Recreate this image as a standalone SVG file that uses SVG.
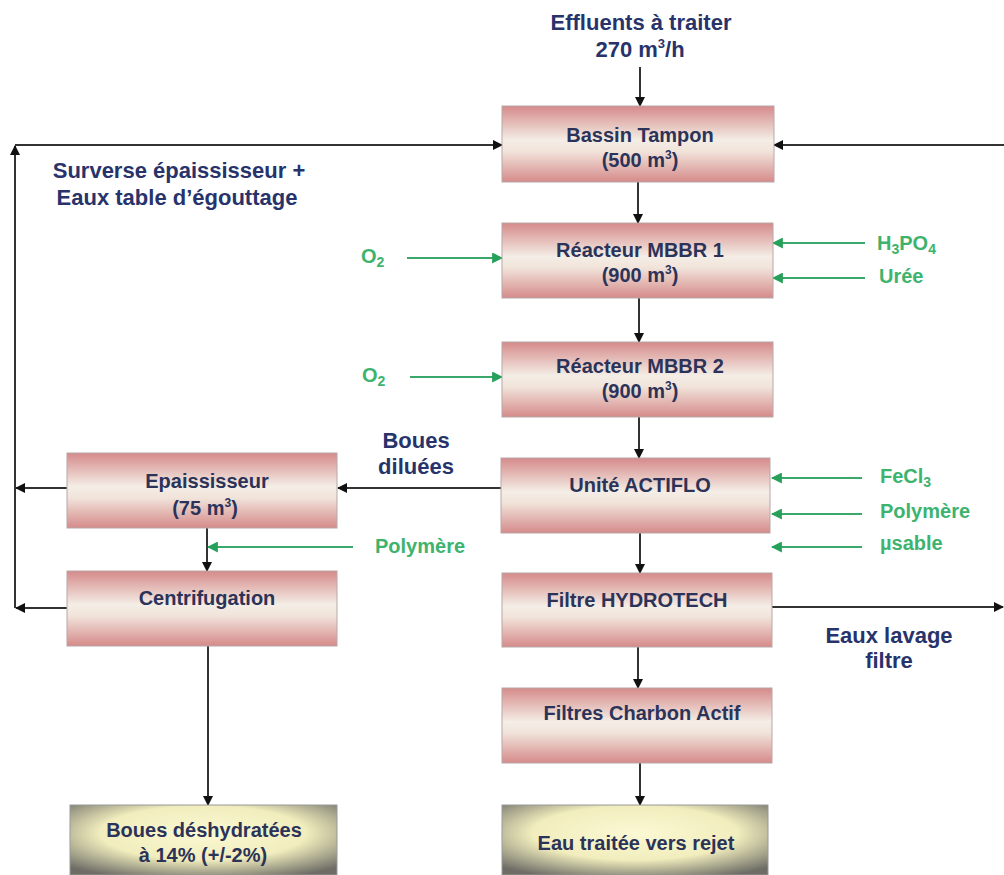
<svg xmlns="http://www.w3.org/2000/svg" width="1004" height="875" viewBox="0 0 1004 875">
<defs>
<linearGradient id="pink" x1="0" y1="0" x2="0" y2="1">
<stop offset="0" stop-color="#d58a8a"/>
<stop offset="0.45" stop-color="#f4eee6"/>
<stop offset="0.6" stop-color="#f1e3da"/>
<stop offset="1" stop-color="#d58a8a"/>
</linearGradient>
<radialGradient id="yel" cx="0.5" cy="0.4" r="0.7">
<stop offset="0" stop-color="#fbf9d4"/>
<stop offset="0.55" stop-color="#f1edbd"/>
<stop offset="1" stop-color="#6d6d66"/>
</radialGradient>
<marker id="ab" viewBox="0 0 10 10" refX="9" refY="5" markerWidth="10" markerHeight="10" markerUnits="userSpaceOnUse" orient="auto">
<path d="M0,0 L10,5 L0,10 z" fill="#111"/>
</marker>
<marker id="ag" viewBox="0 0 10 10" refX="9" refY="5" markerWidth="11" markerHeight="11" markerUnits="userSpaceOnUse" orient="auto">
<path d="M0,0 L10,5 L0,10 z" fill="#27a05a"/>
</marker>
</defs>
<style>
.box{fill:url(#pink);stroke:#b8a8a8;stroke-width:1}
.ybox{fill:url(#yel);stroke:#999;stroke-width:1}
.bt{font-family:"Liberation Sans",Arial,sans-serif;font-weight:bold;font-size:20px;fill:#2c3358;text-anchor:middle}
.lbl{font-family:"Liberation Sans",Arial,sans-serif;font-weight:bold;font-size:22px;fill:#27336a;text-anchor:middle}
.gl{font-family:"Liberation Sans",Arial,sans-serif;font-weight:bold;font-size:20px;fill:#3db36e}
.bl{stroke:#333;stroke-width:2;fill:none}
.gr{stroke:#3aa86a;stroke-width:2;fill:none}
</style>
<rect width="1004" height="875" fill="#fff"/>

<g id="connectors">
<line class="bl" x1="640" y1="67" x2="640" y2="106" marker-end="url(#ab)"/>
<line class="bl" x1="638" y1="182" x2="638" y2="223" marker-end="url(#ab)"/>
<line class="bl" x1="639" y1="298" x2="639" y2="342" marker-end="url(#ab)"/>
<line class="bl" x1="639" y1="417" x2="639" y2="458" marker-end="url(#ab)"/>
<line class="bl" x1="640" y1="533" x2="640" y2="573" marker-end="url(#ab)"/>
<line class="bl" x1="638" y1="647" x2="638" y2="688" marker-end="url(#ab)"/>
<line class="bl" x1="640" y1="763" x2="640" y2="805" marker-end="url(#ab)"/>
<line class="bl" x1="502" y1="488" x2="338" y2="488" marker-end="url(#ab)"/>
<line class="bl" x1="207" y1="528" x2="207" y2="571" marker-end="url(#ab)"/>
<line class="bl" x1="208" y1="646" x2="208" y2="805" marker-end="url(#ab)"/>
<line class="bl" x1="67" y1="488" x2="16" y2="488" marker-end="url(#ab)"/>
<line class="bl" x1="67" y1="608" x2="16" y2="608" marker-end="url(#ab)"/>
<line class="bl" x1="15" y1="608" x2="15" y2="146" marker-end="url(#ab)"/>
<line class="bl" x1="15" y1="145" x2="502" y2="145" marker-end="url(#ab)"/>
<line class="bl" x1="1004" y1="145" x2="774" y2="145" marker-end="url(#ab)"/>
<line class="bl" x1="772" y1="607" x2="1003" y2="607" marker-end="url(#ab)"/>
<line class="gr" x1="407" y1="258" x2="502" y2="258" marker-end="url(#ag)"/>
<line class="gr" x1="410" y1="377" x2="502" y2="377" marker-end="url(#ag)"/>
<line class="gr" x1="865" y1="243" x2="773" y2="243" marker-end="url(#ag)"/>
<line class="gr" x1="865" y1="278" x2="773" y2="278" marker-end="url(#ag)"/>
<line class="gr" x1="862" y1="478" x2="772" y2="478" marker-end="url(#ag)"/>
<line class="gr" x1="862" y1="514" x2="772" y2="514" marker-end="url(#ag)"/>
<line class="gr" x1="862" y1="547" x2="772" y2="547" marker-end="url(#ag)"/>
<line class="gr" x1="353" y1="547" x2="208" y2="547" marker-end="url(#ag)"/>
</g>

<g id="bassin"><rect class="box" x="502" y="106" width="272" height="76"/>
<text class="bt" x="640" y="142">Bassin Tampon</text>
<text class="bt" x="640" y="167">(500 m<tspan dy="-8" font-size="12">3</tspan><tspan dy="8">)</tspan></text></g>

<g id="mbbr1"><rect class="box" x="502" y="223" width="271" height="75"/>
<text class="bt" x="640" y="257">Réacteur MBBR 1</text>
<text class="bt" x="640" y="282">(900 m<tspan dy="-8" font-size="12">3</tspan><tspan dy="8">)</tspan></text></g>

<g id="mbbr2"><rect class="box" x="502" y="342" width="271" height="75"/>
<text class="bt" x="640" y="373">Réacteur MBBR 2</text>
<text class="bt" x="640" y="398">(900 m<tspan dy="-8" font-size="12">3</tspan><tspan dy="8">)</tspan></text></g>

<g id="actiflo"><rect class="box" x="501" y="458" width="269" height="75"/>
<text class="bt" x="640" y="492">Unité ACTIFLO</text></g>

<g id="hydrotech"><rect class="box" x="502" y="573" width="270" height="74"/>
<text class="bt" x="637" y="607">Filtre HYDROTECH</text></g>

<g id="charbon"><rect class="box" x="502" y="688" width="270" height="75"/>
<text class="bt" x="642" y="720">Filtres Charbon Actif</text></g>

<g id="eau"><rect class="ybox" x="502" y="805" width="266" height="70"/>
<text class="bt" x="636" y="850">Eau traitée vers rejet</text></g>

<g id="epaississeur"><rect class="box" x="67" y="453" width="270" height="75"/>
<text class="bt" x="207" y="488">Epaississeur</text>
<text class="bt" x="205" y="515">(75 m<tspan dy="-8" font-size="12">3</tspan><tspan dy="8">)</tspan></text></g>

<g id="centrifugation"><rect class="box" x="67" y="571" width="270" height="75"/>
<text class="bt" x="207" y="605">Centrifugation</text></g>

<g id="boues"><rect class="ybox" x="70" y="805" width="267" height="70"/>
<text class="bt" x="204" y="837">Boues déshydratées</text>
<text class="bt" x="203" y="862">à 14% (+/-2%)</text></g>

<g id="labels">
<text class="lbl" x="641" y="30">Effluents à traiter</text>
<text class="lbl" x="640" y="57">270 m<tspan dy="-9" font-size="13">3</tspan><tspan dy="9">/h</tspan></text>
<text class="lbl" x="179" y="178">Surverse épaississeur +</text>
<text class="lbl" x="177" y="205">Eaux table d’égouttage</text>
<text class="lbl" x="416" y="448" font-size="21">Boues</text>
<text class="lbl" x="416" y="474" font-size="21">diluées</text>
<text class="lbl" x="889" y="643">Eaux lavage</text>
<text class="lbl" x="889" y="668">filtre</text>
<text class="gl" x="361" y="263">O<tspan dy="4" font-size="14">2</tspan></text>
<text class="gl" x="362" y="382">O<tspan dy="4" font-size="14">2</tspan></text>
<text class="gl" x="877" y="250">H<tspan dy="4" font-size="14">3</tspan><tspan dy="-4">PO</tspan><tspan dy="4" font-size="14">4</tspan></text>
<text class="gl" x="879" y="283">Urée</text>
<text class="gl" x="880" y="483">FeCl<tspan dy="4" font-size="14">3</tspan></text>
<text class="gl" x="880" y="518">Polymère</text>
<text class="gl" x="880" y="550">µsable</text>
<text class="gl" x="375" y="553">Polymère</text>
</g>
</svg>
